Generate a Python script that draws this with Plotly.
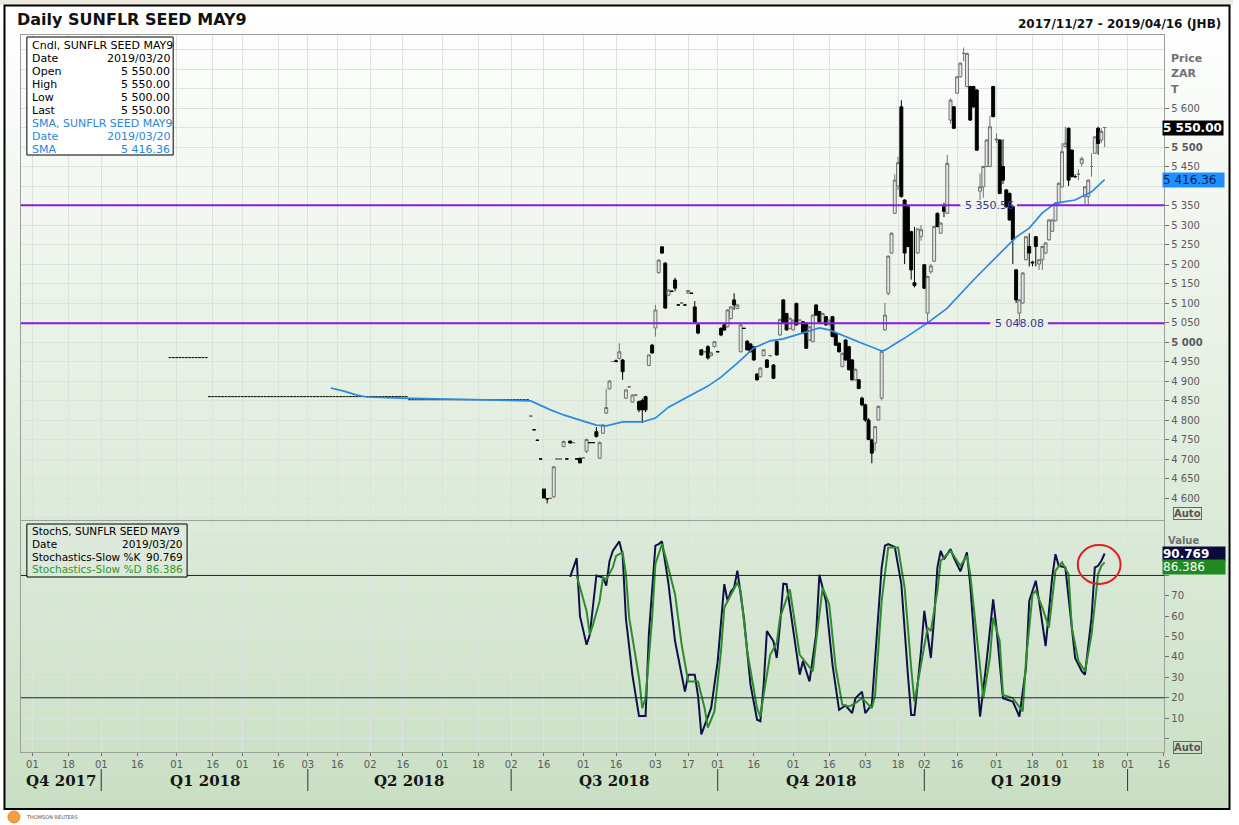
import plotly.graph_objects as go
import pandas as pd

W, H = 1239, 825

# ---------------- data ----------------
calendar_start = "2017-11-27"
calendar_end = "2019-04-16"
market_holidays = [
    "2018-03-21", "2018-03-30", "2018-04-02", "2018-04-27", "2018-05-01",
    "2018-08-09", "2018-09-24", "2018-12-17", "2018-12-25", "2018-12-26",
    "2019-01-01", "2019-03-21",
]

# settlement-only days (no trading range): drawn as dashes
flat_start = "2018-01-30"
flat_price = [
    4960, 4960, 4960, 4960, 4960, 4960, 4960, 4960, 4960, 4960, 4960, 4960,
    4860, 4860, 4860, 4860, 4860, 4860, 4860, 4860, 4860, 4860,
    4860, 4860, 4860, 4860, 4860, 4860, 4860, 4860, 4860, 4860,
    4860, 4860, 4860, 4860, 4860, 4860, 4860, 4860, 4860, 4860,
    4860, 4860, 4860, 4860, 4860, 4860, 4860, 4860, 4860, 4860,
    4860, 4860, 4860, 4860, 4860, 4860, 4860, 4860, 4860, 4860,
    4860, 4860, 4860, 4860, 4860, 4860, 4860, 4860, 4860, 4860,
    4860,
    4852, 4852, 4852, 4852, 4852, 4852, 4852, 4852, 4852, 4852,
    4852, 4852, 4852, 4852, 4852, 4852, 4852, 4852, 4852, 4852,
    4852, 4852, 4852, 4852, 4852, 4852, 4852, 4852, 4852, 4852,
    4852, 4852, 4852, 4852, 4852, 4852, 4852,
]

candle_start = "2018-07-10"
open_ = [
    4810, 4775, 4748, 4700, 4623, 4598, 4599, 4603, 4700, 4700,
    4732, 4700, 4746, 4742, 4700, 4702, 4703, 4720, 4742, 4742,
    4770, 4702, 4766, 4818, 4880, 4950, 4952, 4958, 4954, 4856,
    4885, 4846, 4864, 4847, 4850, 4860, 4940, 4992, 5036, 5178,
    5244, 5202, 5120, 5130, 5159, 5095, 5100, 5095, 5125, 5125,
    5090, 5044, 4980, 4975, 4988, 4965, 4988, 4975, 5035, 5044,
    5039, 5060, 5108, 5086, 4975, 5035, 5002, 4995, 4988, 4918,
    4911, 4965, 4954, 4965, 4941, 5001, 5018, 5108, 5073, 5035,
    5031, 5099, 5056, 5052, 5048, 5005, 5001, 5095, 5078, 5048,
    5065, 5044, 5065, 5022, 4997, 4937, 5005, 4988, 4954, 4903,
    4903, 4856, 4839, 4800, 4749, 4741, 4800, 4856, 5031, 5125,
    5228, 5330, 5400, 5603, 5364, 5347, 5283, 5152, 5228, 5271,
    5198, 5074, 5180, 5207, 5330, 5279, 5347, 5330, 5569, 5603,
    5638, 5680, 5740, 5655, 5655, 5655, 5646, 5387, 5398, 5450,
    5450, 5655, 5518, 5518, 5450, 5390, 5381, 5347, 5185, 5074,
    5100, 5211, 5245, 5205, 5270, 5200, 5211, 5228, 5262, 5284,
    5311, 5356, 5398, 5501, 5548, 5492, 5424, 5430, 5458, 5373,
    5373, 5450, 5484, 5548, 5518, 5550,
]
high = [
    4810, 4775, 4748, 4700, 4623, 4598, 4599, 4682, 4700, 4700,
    4747, 4700, 4747, 4742, 4700, 4703, 4703, 4752, 4742, 4742,
    4782, 4745, 4790, 4880, 4902, 4950, 4955, 4997, 4956, 4880,
    4885, 4866, 4864, 4850, 4855, 4862, 4968, 4995, 5095, 5212,
    5246, 5205, 5135, 5132, 5165, 5095, 5100, 5095, 5133, 5125,
    5105, 5046, 4982, 4975, 4992, 4975, 5002, 4975, 5038, 5046,
    5084, 5092, 5125, 5097, 5046, 5035, 5005, 4997, 4990, 4920,
    4935, 4982, 4956, 4965, 4943, 5003, 5060, 5110, 5075, 5063,
    5058, 5101, 5056, 5054, 5050, 5041, 5071, 5097, 5080, 5075,
    5067, 5058, 5067, 5024, 4999, 4973, 5007, 4990, 4956, 4932,
    4905, 4860, 4842, 4805, 4752, 4785, 4837, 4978, 5100, 5222,
    5281, 5430, 5475, 5620, 5366, 5349, 5285, 5295, 5292, 5300,
    5200, 5170, 5200, 5298, 5332, 5307, 5357, 5480, 5625, 5605,
    5682, 5717, 5755, 5742, 5657, 5657, 5648, 5432, 5452, 5520,
    5580, 5657, 5535, 5520, 5520, 5392, 5383, 5349, 5187, 5110,
    5179, 5272, 5279, 5208, 5272, 5213, 5247, 5256, 5315, 5315,
    5358, 5409, 5510, 5552, 5550, 5494, 5430, 5443, 5475, 5400,
    5417, 5484, 5528, 5552, 5548, 5550,
]
low = [
    4810, 4775, 4748, 4700, 4600, 4586, 4599, 4600, 4700, 4700,
    4730, 4700, 4740, 4742, 4700, 4690, 4703, 4715, 4742, 4742,
    4755, 4700, 4764, 4815, 4878, 4950, 4948, 4955, 4903, 4854,
    4885, 4845, 4864, 4820, 4792, 4820, 4938, 4970, 5014, 5175,
    5226, 5085, 5118, 5128, 5130, 5095, 5100, 5095, 5124, 5125,
    5050, 5020, 4965, 4975, 4955, 4963, 4986, 4975, 5015, 5028,
    5037, 5058, 5082, 5084, 4973, 5035, 4978, 4973, 4952, 4901,
    4909, 4963, 4933, 4965, 4905, 4965, 5016, 5046, 5029, 5033,
    5029, 5042, 5056, 5020, 4982, 5003, 4999, 5067, 5050, 5046,
    5042, 5042, 5012, 4990, 4973, 4935, 4952, 4927, 4901, 4901,
    4879, 4835, 4795, 4748, 4689, 4720, 4798, 4850, 5029, 5120,
    5226, 5328, 5390, 5370, 5200, 5243, 5160, 5140, 5226, 5260,
    5136, 5048, 5175, 5205, 5294, 5277, 5320, 5328, 5560, 5546,
    5636, 5678, 5720, 5653, 5567, 5601, 5490, 5364, 5370, 5448,
    5448, 5576, 5510, 5379, 5405, 5345, 5311, 5200, 5100, 5045,
    5098, 5209, 5194, 5194, 5194, 5185, 5185, 5226, 5260, 5282,
    5309, 5354, 5396, 5499, 5400, 5422, 5420, 5415, 5450, 5352,
    5350, 5424, 5482, 5480, 5510, 5500,
]
close = [
    4810, 4775, 4748, 4700, 4600, 4598, 4599, 4680, 4700, 4700,
    4745, 4700, 4741, 4742, 4700, 4690, 4703, 4750, 4742, 4742,
    4758, 4742, 4787, 4832, 4900, 4950, 4950, 4975, 4924, 4877,
    4885, 4864, 4864, 4826, 4826, 4826, 4967, 4972, 5082, 5210,
    5228, 5087, 5133, 5130, 5138, 5095, 5100, 5095, 5132, 5125,
    5051, 5023, 4967, 4975, 4959, 4972, 5001, 4975, 5018, 5031,
    5082, 5090, 5095, 5095, 5044, 5035, 4980, 4975, 4954, 4903,
    4933, 4980, 4935, 4965, 4907, 4967, 5058, 5048, 5031, 5061,
    5056, 5044, 5056, 5022, 4984, 5039, 5069, 5069, 5052, 5073,
    5044, 5056, 5014, 4992, 4975, 4971, 4954, 4929, 4903, 4930,
    4881, 4839, 4800, 4750, 4715, 4783, 4835, 4976, 5069, 5220,
    5279, 5415, 5460, 5373, 5228, 5245, 5185, 5145, 5290, 5288,
    5138, 5168, 5195, 5296, 5296, 5305, 5335, 5458, 5620, 5548,
    5680, 5715, 5740, 5740, 5569, 5603, 5492, 5398, 5450, 5518,
    5552, 5578, 5520, 5381, 5415, 5347, 5313, 5262, 5108, 5108,
    5177, 5270, 5228, 5203, 5245, 5211, 5245, 5254, 5313, 5313,
    5356, 5407, 5488, 5510, 5415, 5424, 5424, 5430, 5470, 5398,
    5415, 5450, 5526, 5509, 5540, 5550,
]

sma_dates = [
    "2018-04-12", "2018-04-18", "2018-04-24", "2018-04-30", "2018-05-15",
    "2018-06-05", "2018-06-26", "2018-07-10", "2018-07-18", "2018-07-24",
    "2018-08-01", "2018-08-07", "2018-08-13", "2018-08-20", "2018-08-28",
    "2018-09-03", "2018-09-07", "2018-09-17", "2018-09-26", "2018-10-02",
    "2018-10-09", "2018-10-16", "2018-10-23", "2018-10-29", "2018-11-06",
    "2018-11-13", "2018-11-16", "2018-11-23", "2018-11-30", "2018-12-10",
    "2018-12-11", "2018-12-18", "2018-12-20", "2019-01-03", "2019-01-11",
    "2019-01-23", "2019-02-01", "2019-02-11", "2019-02-15", "2019-02-21",
    "2019-02-27", "2019-03-07", "2019-03-14", "2019-03-20",
]
sma_values = [
    4882, 4874, 4864, 4859, 4856,
    4854, 4851, 4849, 4826, 4813,
    4797, 4787, 4785, 4795, 4795,
    4805, 4833, 4859, 4887, 4910,
    4946, 4985, 5003, 5008, 5023,
    5036, 5031, 5013, 4997, 4977,
    4979, 5000, 5010, 5049, 5087,
    5159, 5218, 5269, 5292, 5331,
    5356, 5364, 5385, 5416.36,
]

k_dates = [
    "2018-07-26", "2018-07-30", "2018-07-31", "2018-08-02", "2018-08-03",
    "2018-08-07", "2018-08-10", "2018-08-13", "2018-08-14", "2018-08-15",
    "2018-08-17", "2018-08-20", "2018-08-21", "2018-08-23", "2018-08-27",
    "2018-08-29", "2018-08-30", "2018-09-03", "2018-09-04", "2018-09-05",
    "2018-09-07", "2018-09-11", "2018-09-14", "2018-09-17", "2018-09-19",
    "2018-09-20", "2018-09-21", "2018-09-25", "2018-09-27", "2018-10-01",
    "2018-10-03", "2018-10-04", "2018-10-05", "2018-10-08", "2018-10-09",
    "2018-10-11", "2018-10-15", "2018-10-17", "2018-10-18", "2018-10-19",
    "2018-10-22", "2018-10-24", "2018-10-25", "2018-10-26", "2018-10-29",
    "2018-10-30", "2018-11-01", "2018-11-05", "2018-11-06", "2018-11-08",
    "2018-11-12", "2018-11-13", "2018-11-15", "2018-11-19", "2018-11-21",
    "2018-11-23", "2018-11-27", "2018-11-28", "2018-11-30", "2018-12-03",
    "2018-12-05", "2018-12-10", "2018-12-11", "2018-12-12", "2018-12-14",
    "2018-12-19", "2018-12-21", "2018-12-24", "2018-12-27", "2018-12-31",
    "2019-01-02", "2019-01-03", "2019-01-04", "2019-01-07", "2019-01-08",
    "2019-01-09", "2019-01-10", "2019-01-14", "2019-01-15", "2019-01-17",
    "2019-01-21", "2019-01-22", "2019-01-24", "2019-01-25", "2019-01-29",
    "2019-01-31", "2019-02-01", "2019-02-05", "2019-02-08", "2019-02-12",
    "2019-02-14", "2019-02-15", "2019-02-19", "2019-02-20", "2019-02-22",
    "2019-02-26", "2019-02-27", "2019-02-28", "2019-03-04", "2019-03-05",
    "2019-03-07", "2019-03-11", "2019-03-12", "2019-03-14", "2019-03-15",
    "2019-03-18", "2019-03-19", "2019-03-20",
]
k_values = [
    79.3, 88.5, 60.0, 46.0, 51.0,
    80.0, 79.0, 75.0, 87.0, 92.0,
    96.7, 90.0, 59.0, 31.0, 11.0,
    11.0, 51.0, 94.6, 95.4, 96.7,
    75.7, 47.7, 23.0, 31.3, 31.3,
    21.0, 2.0, 6.7, 15.0, 38.0,
    75.7, 67.5, 72.0, 74.0, 82.3,
    59.0, 26.4, 9.2, 8.5, 26.0,
    52.7, 47.7, 39.5, 56.0, 76.0,
    75.7, 54.4, 31.3, 38.0, 28.0,
    51.0, 80.3, 67.5, 36.3, 14.1,
    16.2, 12.5, 19.8, 23.0, 12.5,
    16.6, 83.9, 94.6, 95.4, 94.0,
    75.7, 31.3, 11.6, 11.6, 42.8,
    62.6, 51.0, 39.5, 59.3, 83.9,
    92.1, 88.0, 92.9, 88.7, 82.0,
    91.3, 75.7, 31.3, 10.8, 38.0,
    68.3, 54.4, 19.8, 18.1, 10.8,
    34.6, 67.5, 77.4, 67.5, 45.3,
    79.0, 90.4, 84.7, 84.0, 69.1,
    39.5, 33.0, 31.3, 59.3, 83.9,
    84.7, 87.2, 90.769,
]

d_dates = [
    "2018-07-30", "2018-07-31", "2018-08-02", "2018-08-03", "2018-08-06",
    "2018-08-08", "2018-08-10", "2018-08-13", "2018-08-15", "2018-08-16",
    "2018-08-20", "2018-08-21", "2018-08-22", "2018-08-27", "2018-08-28",
    "2018-08-29", "2018-08-31", "2018-09-03", "2018-09-05", "2018-09-06",
    "2018-09-11", "2018-09-13", "2018-09-17", "2018-09-19", "2018-09-20",
    "2018-09-25", "2018-09-26", "2018-09-28", "2018-10-02", "2018-10-03",
    "2018-10-05", "2018-10-09", "2018-10-10", "2018-10-12", "2018-10-17",
    "2018-10-18", "2018-10-19", "2018-10-23", "2018-10-25", "2018-10-26",
    "2018-10-31", "2018-11-01", "2018-11-05", "2018-11-07", "2018-11-09",
    "2018-11-12", "2018-11-14", "2018-11-16", "2018-11-20", "2018-11-22",
    "2018-11-26", "2018-11-28", "2018-11-30", "2018-12-05", "2018-12-06",
    "2018-12-10", "2018-12-12", "2018-12-18", "2018-12-20", "2018-12-24",
    "2018-12-27", "2018-12-31", "2019-01-03", "2019-01-04", "2019-01-08",
    "2019-01-09", "2019-01-14", "2019-01-17", "2019-01-21", "2019-01-22",
    "2019-01-24", "2019-01-28", "2019-01-30", "2019-01-31", "2019-02-04",
    "2019-02-05", "2019-02-08", "2019-02-13", "2019-02-14", "2019-02-18",
    "2019-02-19", "2019-02-21", "2019-02-25", "2019-02-27", "2019-03-01",
    "2019-03-05", "2019-03-06", "2019-03-08", "2019-03-12", "2019-03-14",
    "2019-03-18", "2019-03-19", "2019-03-20",
]
d_values = [
    80.0, 74.0, 62.6, 51.0, 56.0,
    67.5, 79.0, 78.0, 83.9, 89.6,
    91.3, 80.6, 59.3, 29.7, 14.9,
    19.8, 59.3, 85.6, 95.4, 89.6,
    70.7, 46.1, 28.0, 28.0, 28.0,
    14.9, 5.4, 13.3, 42.8, 64.2,
    70.0, 76.5, 72.5, 42.8, 14.9,
    10.8, 21.4, 41.1, 46.9, 59.3,
    73.2, 62.6, 41.1, 37.0, 33.0,
    47.7, 74.0, 65.9, 34.6, 16.6,
    15.7, 17.4, 19.8, 14.9, 21.4,
    67.5, 93.7, 93.7, 74.0, 34.6,
    18.1, 36.3, 54.4, 52.7, 72.4,
    87.2, 92.1, 84.7, 89.6, 80.6,
    51.0, 19.8, 39.5, 59.3, 47.7,
    21.4, 19.8, 13.3, 38.0, 70.7,
    72.4, 64.2, 54.4, 82.3, 86.4,
    80.6, 54.4, 38.0, 33.0, 51.0,
    80.6, 84.7, 86.386,
]

support_levels = [5350.56, 5048.08]
stoch_bands = [80, 20]

tick_dates = [
    "2017-12-01", "2017-12-18", "2018-01-01", "2018-01-16", "2018-02-01",
    "2018-02-16", "2018-03-01", "2018-03-16", "2018-04-03", "2018-04-16",
    "2018-05-02", "2018-05-16", "2018-06-01", "2018-06-18", "2018-07-02",
    "2018-07-16", "2018-08-01", "2018-08-16", "2018-09-03", "2018-09-17",
    "2018-10-01", "2018-10-16", "2018-11-01", "2018-11-16", "2018-12-03",
    "2018-12-18", "2019-01-02", "2019-01-16", "2019-02-01", "2019-02-18",
    "2019-03-01", "2019-03-18", "2019-04-01", "2019-04-16",
]
quarter_labels = ["Q4 2017", "Q1 2018", "Q2 2018", "Q3 2018", "Q4 2018", "Q1 2019"]
quarter_starts = ["2018-01-01", "2018-04-03", "2018-07-02", "2018-10-01", "2019-01-02", "2019-04-01"]

price_ticks = list(range(4600, 5601, 50))
stoch_ticks = [0, 10, 20, 30, 40, 50, 60, 70, 80, 90]

# ---------------- calendar mapping ----------------
trading_days = [d.strftime("%Y-%m-%d") for d in pd.bdate_range(calendar_start, calendar_end)
                if d.strftime("%Y-%m-%d") not in market_holidays]
day_pos = {d: k for k, d in enumerate(trading_days)}


def positions(dates):
    return [day_pos[d] for d in dates]


assert len(open_) == len(high) == len(low) == len(close)
assert len(sma_dates) == len(sma_values)
assert len(k_dates) == len(k_values) and len(d_dates) == len(d_values)

flat_x = list(range(day_pos[flat_start], day_pos[flat_start] + len(flat_price)))
candle_x = list(range(day_pos[candle_start], day_pos[candle_start] + len(close)))
last_date = trading_days[candle_x[-1]]
x_range = [0.5, 349.2]

# ---------------- figure ----------------
fig = go.Figure()

fig.add_trace(go.Candlestick(
    x=candle_x, open=open_, high=high, low=low, close=close,
    xaxis="x", yaxis="y",
    increasing=dict(line=dict(color="#707070", width=1), fillcolor="rgba(228,228,228,0.95)"),
    decreasing=dict(line=dict(color="#000000", width=1), fillcolor="#000000"),
    whiskerwidth=0, hoverinfo="skip",
))
fig.add_trace(go.Scatter(
    x=flat_x, y=flat_price, mode="markers", xaxis="x", yaxis="y",
    marker=dict(symbol="line-ew", size=2, line=dict(width=1, color="#000000")),
    hoverinfo="skip",
))
fig.add_trace(go.Scatter(
    x=positions(sma_dates), y=sma_values, mode="lines", xaxis="x", yaxis="y",
    line=dict(color="#2A8AE0", width=1.7), hoverinfo="skip",
))
fig.add_trace(go.Scatter(
    x=positions(k_dates), y=k_values, mode="lines", xaxis="x2", yaxis="y2",
    line=dict(color="#101048", width=2), hoverinfo="skip",
))
fig.add_trace(go.Scatter(
    x=positions(d_dates), y=d_values, mode="lines", xaxis="x2", yaxis="y2",
    line=dict(color="#2E8B2E", width=2), hoverinfo="skip",
))

GRID = "#DCE2DC"
AXL = "#9AA09A"
TICKC = "#5A5A5A"
FONT = "DejaVu Sans"


def fmt_sp(v, nd=0):
    return f"{v:,.{nd}f}".replace(",", " ")


# labels hidden behind the value boxes on the right are left blank
covered_price = [5550, 5400]
covered_stoch = [80, 90]
price_text = ["" if v in covered_price else (("<b>%s</b>" % fmt_sp(v)) if v % 500 == 0 else fmt_sp(v))
              for v in price_ticks]
stoch_text = ["" if (v == 0 or v in covered_stoch) else str(v) for v in stoch_ticks]
tick_x = positions(tick_dates)
tick_text = [d[-2:] for d in tick_dates]

x_dom = [21 / W, 1170 / W]
fig.update_layout(
    width=W, height=H, margin=dict(l=0, r=0, t=0, b=0),
    paper_bgcolor="#FFFFFF", plot_bgcolor="rgba(0,0,0,0)",
    showlegend=False, hovermode=False, boxgap=0.1, boxgroupgap=0,
    font=dict(family=FONT, size=10, color=TICKC),
    xaxis=dict(domain=x_dom, anchor="y", range=x_range, type="linear",
               tickvals=tick_x, ticks="", showticklabels=False,
               showgrid=True, gridcolor=GRID, gridwidth=1, zeroline=False,
               showline=True, mirror=True, linecolor=AXL, linewidth=1,
               rangeslider=dict(visible=False)),
    yaxis=dict(domain=[1 - 520 / H, 1 - 35 / H], anchor="x", side="right",
               range=[4543.6, 5787.2], tickvals=price_ticks, ticktext=price_text,
               ticks="outside", ticklen=4, tickcolor="#707070",
               tickfont=dict(size=10, color=TICKC, family=FONT),
               showgrid=True, gridcolor=GRID, zeroline=False,
               minor=dict(tickmode="linear", tick0=0, dtick=50, showgrid=True, gridcolor=GRID, ticks=""),
               showline=True, mirror=True, linecolor=AXL, linewidth=1),
    xaxis2=dict(domain=x_dom, anchor="y2", range=x_range, type="linear", matches="x",
                tickvals=tick_x, ticktext=tick_text, ticks="outside", ticklen=3,
                tickcolor="#707070", tickfont=dict(size=10, color=TICKC, family=FONT),
                showgrid=True, gridcolor=GRID, zeroline=False,
                showline=True, mirror=True, linecolor=AXL, linewidth=1),
    yaxis2=dict(domain=[1 - 752 / H, 1 - 521 / H], anchor="x2", side="right",
                range=[-6.6, 106.7], tickvals=stoch_ticks, ticktext=stoch_text,
                ticks="outside", ticklen=4, tickcolor="#707070",
                tickfont=dict(size=10, color=TICKC, family=FONT),
                showgrid=True, gridcolor=GRID, zeroline=False,
                minor=dict(tickmode="linear", tick0=0, dtick=10, showgrid=True, gridcolor=GRID, ticks=""),
                showline=True, mirror=True, linecolor=AXL, linewidth=1),
)

shapes = []
# top strip
shapes.append(dict(type="rect", xref="paper", yref="paper", x0=0, x1=1, y0=1 - 5 / H, y1=1,
                   fillcolor="#ECE9DE", line_width=0, layer="below"))
# gradient background inside frame
top_px, bot_px, nb = 6, 809, 110
c0, c1 = (255, 255, 255), (201, 223, 196)
for k in range(nb):
    y0p = top_px + (bot_px - top_px) * k / nb
    y1p = top_px + (bot_px - top_px) * (k + 1) / nb + 1
    t = (k + 0.5) / nb
    col = "rgb(%d,%d,%d)" % tuple(round(a + (b - a) * t) for a, b in zip(c0, c1))
    shapes.append(dict(type="rect", xref="paper", yref="paper", x0=5 / W, x1=1235 / W,
                       y0=1 - min(y1p, bot_px) / H, y1=1 - y0p / H,
                       fillcolor=col, line_width=0, layer="below"))
# outer frame
shapes.append(dict(type="rect", xref="paper", yref="paper", x0=4.5 / W, x1=1235.5 / W,
                   y0=1 - 809 / H, y1=1 - 5.5 / H, line=dict(color="#000000", width=2),
                   fillcolor="rgba(0,0,0,0)", layer="above"))

# support / resistance lines with a gap for their labels
gaps = [(965, 1022), (995, 1053)]
for lvl, (g0, g1) in zip(support_levels, gaps):
    for a, b in [(21, g0), (g1, 1170)]:
        shapes.append(dict(type="line", xref="paper", yref="y", x0=a / W, x1=b / W, y0=lvl, y1=lvl,
                           line=dict(color="#8A1BE0", width=2)))
# stochastic bands
for lvl in stoch_bands:
    shapes.append(dict(type="line", xref="paper", yref="y2", x0=21 / W, x1=1170 / W, y0=lvl, y1=lvl,
                       line=dict(color="#1A1A55", width=1)))
# quarter separators
for qx in positions(quarter_starts):
    shapes.append(dict(type="line", xref="x2", yref="paper", x0=qx, x1=qx,
                       y0=1 - 791 / H, y1=1 - 769 / H, line=dict(color="#333333", width=1)))
# legend boxes
shapes.append(dict(type="rect", xref="paper", yref="paper", x0=27 / W, x1=174 / W,
                   y0=1 - 155 / H, y1=1 - 37 / H, fillcolor="#FFFFFF",
                   line=dict(color="#000000", width=1)))
shapes.append(dict(type="rect", xref="paper", yref="paper", x0=27 / W, x1=188 / W,
                   y0=1 - 577 / H, y1=1 - 524 / H, fillcolor="#DDE9DA",
                   line=dict(color="#000000", width=1)))
# red highlight circle
shapes.append(dict(type="circle", xref="paper", yref="paper", x0=1083 / W, x1=1126 / W,
                   y0=1 - 584 / H, y1=1 - 545 / H, line=dict(color="#E02020", width=2)))
# logo
shapes.append(dict(type="circle", xref="paper", yref="paper", x0=8 / W, x1=20 / W,
                   y0=1 - 823 / H, y1=1 - 811 / H, fillcolor="#F4A040", line=dict(color="#E08A20", width=1)))

anns = []


def ann(text, xpx, ypx, size=11, color="#000000", anchor="left", family=FONT, **kw):
    d = dict(text=text, x=xpx / W, y=1 - ypx / H, xref="paper", yref="paper",
             xanchor=anchor, yanchor="middle", showarrow=False,
             font=dict(size=size, color=color, family=family))
    d.update(kw)
    anns.append(d)


ann("<b>Daily SUNFLR SEED MAY9</b>", 15, 19.5, size=16, color="#111111")
ann("<b>%s - %s (JHB)</b>" % (calendar_start.replace("-", "/"), calendar_end.replace("-", "/")),
    1229, 24, size=12, color="#111111", anchor="right")

# upper legend
BLUE = "#2A86D8"
lg_date = last_date.replace("-", "/")
rows = [
    ("Cndl, SUNFLR SEED MAY9", "", "#000000"),
    ("Date", lg_date, "#000000"),
    ("Open", fmt_sp(open_[-1], 2), "#000000"),
    ("High", fmt_sp(high[-1], 2), "#000000"),
    ("Low", fmt_sp(low[-1], 2), "#000000"),
    ("Last", fmt_sp(close[-1], 2), "#000000"),
    ("SMA, SUNFLR SEED MAY9", "", BLUE),
    ("Date", lg_date, BLUE),
    ("SMA", fmt_sp(sma_values[-1], 2), BLUE),
]
for r, (lab, val, col) in enumerate(rows):
    yy = 45 + r * 13.1
    ann(lab, 30.5, yy, size=11, color=col)
    if val:
        ann(val, 172.5, yy, size=11, color=col, anchor="right")

# lower legend
GREEN_T = "#2A9A2A"
rows2 = [
    ("StochS, SUNFLR SEED MAY9", "", "#000000"),
    ("Date", lg_date, "#000000"),
    ("Stochastics-Slow %K", "%.3f" % k_values[-1], "#000000"),
    ("Stochastics-Slow %D", "%.3f" % d_values[-1], GREEN_T),
]
for r, (lab, val, col) in enumerate(rows2):
    yy = 531 + r * 12.8
    ann(lab, 30.5, yy, size=10.5, color=col)
    if val:
        ann(val, 186, yy, size=10.5, color=col, anchor="right")

# support labels
for lvl, xc in zip(support_levels, [994, 1024]):
    anns.append(dict(text=fmt_sp(lvl, 2), x=xc / W, y=lvl, xref="paper", yref="y",
                     xanchor="center", yanchor="middle", showarrow=False,
                     font=dict(size=11, color="#3A3890", family=FONT)))

# right axis headers and value boxes
for t, yy in [("Price", 58), ("ZAR", 73), ("T", 89)]:
    ann("<b>%s</b>" % t, 1175, yy, size=11, color="#707070")
ann("<b>Value</b>", 1172, 540, size=10, color="#707070")

anns.append(dict(text="<b>%s</b>" % fmt_sp(close[-1], 2), x=1168 / W, y=close[-1], xref="paper", yref="y",
                 xanchor="left", yanchor="middle", showarrow=False, bgcolor="#000000",
                 font=dict(size=12, color="#FFFFFF", family=FONT), width=60, align="left", borderpad=0))
anns.append(dict(text=fmt_sp(sma_values[-1], 2), x=1168 / W, y=sma_values[-1], xref="paper", yref="y",
                 xanchor="left", yanchor="middle", showarrow=False, bgcolor="#1E90FF",
                 font=dict(size=12, color="#0B1F5C", family=FONT), width=61, align="left", borderpad=0))
anns.append(dict(text="<b>%.3f</b>" % k_values[-1], x=1168 / W, y=1 - 554 / H, xref="paper", yref="paper",
                 xanchor="left", yanchor="middle", showarrow=False, bgcolor="#0A0A3C",
                 font=dict(size=12, color="#FFFFFF", family=FONT), width=62, align="left", borderpad=0))
anns.append(dict(text="%.3f" % d_values[-1], x=1168 / W, y=1 - 567 / H, xref="paper", yref="paper",
                 xanchor="left", yanchor="middle", showarrow=False, bgcolor="#1F8A1F",
                 font=dict(size=12, color="#FFFFFF", family=FONT), width=62, align="left", borderpad=0))

# Auto buttons
for yy in [513, 747]:
    ann("<b>Auto</b>", 1179, yy, size=10, color="#555555", bordercolor="#666666", borderwidth=1, borderpad=0)

# quarter labels
q_pos = positions(quarter_starts)
edges = [x_range[0]] + q_pos
for k, lab in enumerate(quarter_labels):
    anns.append(dict(text="<b>%s</b>" % lab, x=(edges[k] + edges[k + 1]) / 2, y=1 - 781 / H,
                     xref="x2", yref="paper", xanchor="center", yanchor="middle", showarrow=False,
                     font=dict(size=15, color="#151515", family="DejaVu Serif")))

ann("THOMSON REUTERS", 24, 817, size=5, color="#555555")

fig.update_layout(shapes=shapes, annotations=anns)
fig.write_html("out.html", config={"displayModeBar": False, "staticPlot": True},
               post_script="document.body.style.margin='0px';document.body.style.overflow='hidden';")
